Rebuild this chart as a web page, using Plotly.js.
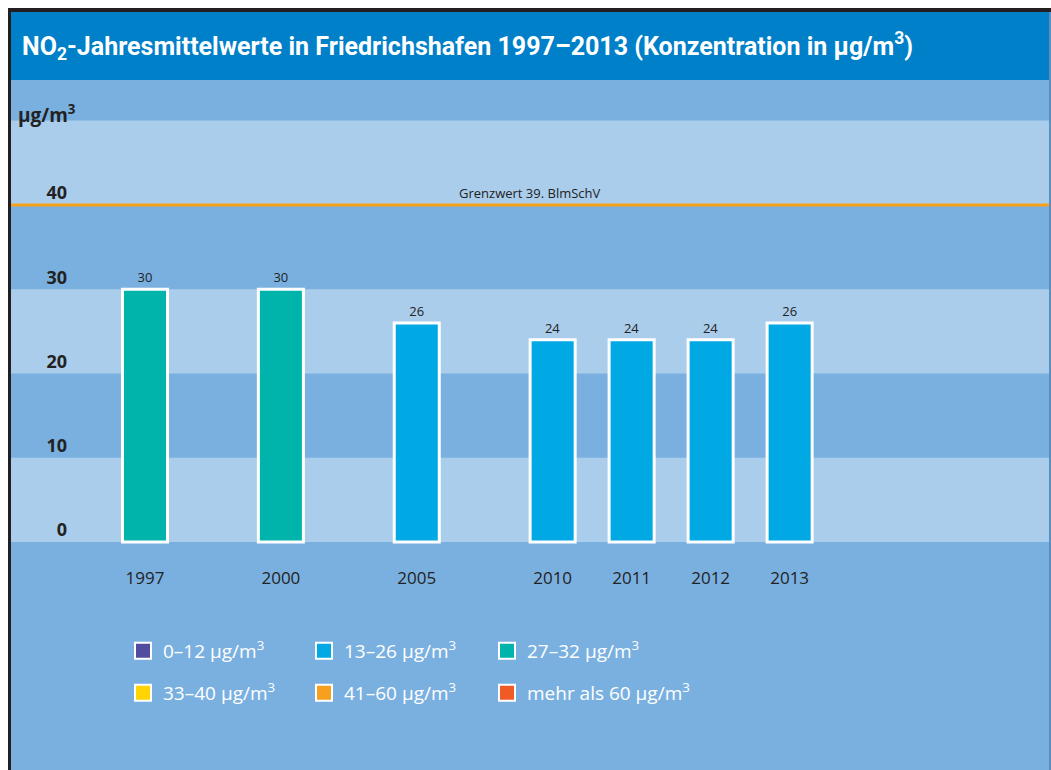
<!DOCTYPE html>
<html>
<head>
<meta charset="utf-8">
<script src="https://cdn.plot.ly/plotly-3.0.1.min.js"></script>
<style>html,body{margin:0;padding:0;background:#fff;}#chart{width:1051px;height:770px;}</style>
</head>
<body>
<div id="chart"></div>
<script>
// ---- data ----
var years = ['1997', '2000', '2005', '2010', '2011', '2012', '2013'];
var values = [30, 30, 26, 24, 24, 24, 26];
var classLabels = ['0–12 µg/m<sup>3</sup>', '13–26 µg/m<sup>3</sup>', '27–32 µg/m<sup>3</sup>',
                   '33–40 µg/m<sup>3</sup>', '41–60 µg/m<sup>3</sup>', 'mehr als 60 µg/m<sup>3</sup>'];
var classUpper = [12, 26, 32, 40, 60, Infinity];
var classColors = ['#524B9F', '#00A8E4', '#00B4AC', '#FFD400', '#F6A01E', '#F05A24'];
var yTicks = [0, 10, 20, 30, 40];
var limitValue = 40;
var limitLabel = 'Grenzwert 39. BlmSchV';
var titleText = 'NO<sub>2</sub>-Jahresmittelwerte in Friedrichshafen 1997–2013 (Konzentration in µg/m<sup>3</sup>)';
var unitLabel = 'µg/m<sup>3</sup>';

// ---- layout helpers ----
// consecutive years sit one slot apart; gaps between non-consecutive years are wider
var pos = [0];
for (var i = 1; i < years.length; i++) {
  var d = (+years[i]) - (+years[i - 1]);
  pos.push(pos[i - 1] + (d === 1 ? 1 : 1.72));
}
function classOf(v) { for (var k = 0; k < classUpper.length; k++) if (v <= classUpper[k]) return k; return classUpper.length - 1; }
var barColors = values.map(function (v) { return classColors[classOf(v)]; });

var W = 1051, H = 770;
var dark = '#7AB0E0', light = '#ABCDEC', titleBlue = '#0080C9';

var traces = [{
  type: 'bar', x: pos, y: values, width: 0.57,
  marker: {color: barColors, line: {color: '#FFFFFF', width: 3}},
  text: values.map(String), textposition: 'outside', cliponaxis: false,
  textfont: {family: 'Open Sans, sans-serif', size: 13, color: '#222222'},
  showlegend: false, hoverinfo: 'x+y'
}];
var legendKeys = ['legend', 'legend2', 'legend3', 'legend4', 'legend5', 'legend6'];
classLabels.forEach(function (lab, k) {
  traces.push({
    type: 'scatter', mode: 'markers', x: [null], y: [null], name: lab,
    legend: legendKeys[k],
    marker: {symbol: 'square', size: 16, color: classColors[k], line: {color: '#FFFFFF', width: 2}}
  });
});

var shapes = [
  // title bar
  {type: 'rect', xref: 'paper', yref: 'paper', x0: 0, x1: 1, y0: 1 - 80 / H, y1: 1, fillcolor: titleBlue, line: {width: 0}, layer: 'below'},
  // white outer margin and dark frame
  {type: 'rect', xref: 'paper', yref: 'paper', x0: 0, x1: 1, y0: 1 - 8 / H, y1: 1, fillcolor: '#FFFFFF', line: {width: 0}, layer: 'above'},
  {type: 'rect', xref: 'paper', yref: 'paper', x0: 0, x1: 8 / W, y0: 0, y1: 1, fillcolor: '#FFFFFF', line: {width: 0}, layer: 'above'},
  {type: 'rect', xref: 'paper', yref: 'paper', x0: 8 / W, x1: 1, y0: 1 - 12 / H, y1: 1 - 8 / H, fillcolor: '#231F20', line: {width: 0}, layer: 'above'},
  {type: 'rect', xref: 'paper', yref: 'paper', x0: 8 / W, x1: 11 / W, y0: 0, y1: 1 - 8 / H, fillcolor: '#231F20', line: {width: 0}, layer: 'above'},
  {type: 'rect', xref: 'paper', yref: 'paper', x0: 1 - 2 / W, x1: 1, y0: 0, y1: 1 - 12 / H, fillcolor: '#5C8FBF', line: {width: 0}, layer: 'above'}
];
// light bands between every other pair of ticks
for (var b = 0; b < 3; b++) {
  shapes.push({type: 'rect', xref: 'paper', yref: 'y', x0: 11 / W, x1: 1, y0: b * 20, y1: b * 20 + 10,
    fillcolor: light, line: {width: 0}, layer: 'below'});
}
shapes.push({type: 'rect', xref: 'paper', yref: 'y', x0: 11 / W, x1: 1, y0: 40, y1: 50,
  fillcolor: light, line: {width: 0}, layer: 'below'});
// limit line
shapes.push({type: 'line', xref: 'paper', yref: 'y', x0: 11 / W, x1: 1, y0: limitValue, y1: limitValue,
  line: {color: '#F7A11A', width: 3}, layer: 'below'});

var pxPerUnitY = 337 / 40;
var y0px = 542;
var pxPerUnitX = 79;
var x0px = 145;

var layout = {
  width: W, height: H,
  margin: {l: 0, r: 0, t: 0, b: 0, pad: 0},
  paper_bgcolor: dark, plot_bgcolor: 'rgba(0,0,0,0)',
  font: {family: 'Open Sans, sans-serif', color: '#222222'},
  title: {text: titleText, x: 22 / W, xanchor: 'left', xref: 'paper', y: 1 - 46 / H, yanchor: 'middle', yref: 'container',
    font: {family: 'Roboto, Open Sans, sans-serif', size: 25, color: '#FFFFFF', weight: 'bold'}},
  xaxis: {
    range: [-x0px / pxPerUnitX, (W - x0px) / pxPerUnitX],
    tickvals: pos, ticktext: years, ticks: '', showgrid: false, zeroline: false, showline: false,
    anchor: 'free', position: (H - y0px) / H, ticklabelstandoff: 24,
    tickfont: {family: 'Open Sans, sans-serif', size: 17, color: '#222222'}, fixedrange: true
  },
  yaxis: {
    range: [-(H - y0px) / pxPerUnitY, y0px / pxPerUnitY],
    tickvals: yTicks, ticks: '', showgrid: false, zeroline: false, showline: false,
    anchor: 'free', position: 67 / W, ticklabelshift: -12,
    tickfont: {family: 'Open Sans, sans-serif', size: 18, color: '#222222', weight: 'bold'}, fixedrange: true
  },
  shapes: shapes,
  annotations: [
    {text: limitLabel, xref: 'paper', yref: 'y', x: 530 / W, y: limitValue, xanchor: 'center', yanchor: 'bottom', yshift: 1,
      showarrow: false, font: {family: 'Open Sans, sans-serif', size: 13, color: '#222222'}},
    {text: unitLabel, xref: 'paper', yref: 'paper', x: 16 / W, y: 1 - 114 / H, xanchor: 'left', yanchor: 'middle',
      showarrow: false, font: {family: 'Open Sans, sans-serif', size: 19, color: '#222222', weight: 'bold'}}
  ],
  bargap: 0.2
};
// one legend box per class, laid out in a 3 x 2 grid
var colX = [123, 304, 487];
var rowY = [632, 674];
legendKeys.forEach(function (key, k) {
  layout[key] = {
    orientation: 'h', x: colX[k % 3] / W, y: 1 - rowY[Math.floor(k / 3)] / H, xanchor: 'left', yanchor: 'top',
    bgcolor: 'rgba(0,0,0,0)', font: {family: 'Open Sans, sans-serif', size: 19, color: '#FFFFFF'}
  };
});

Plotly.newPlot('chart', traces, layout, {displayModeBar: false, staticPlot: true});
</script>
</body>
</html>
